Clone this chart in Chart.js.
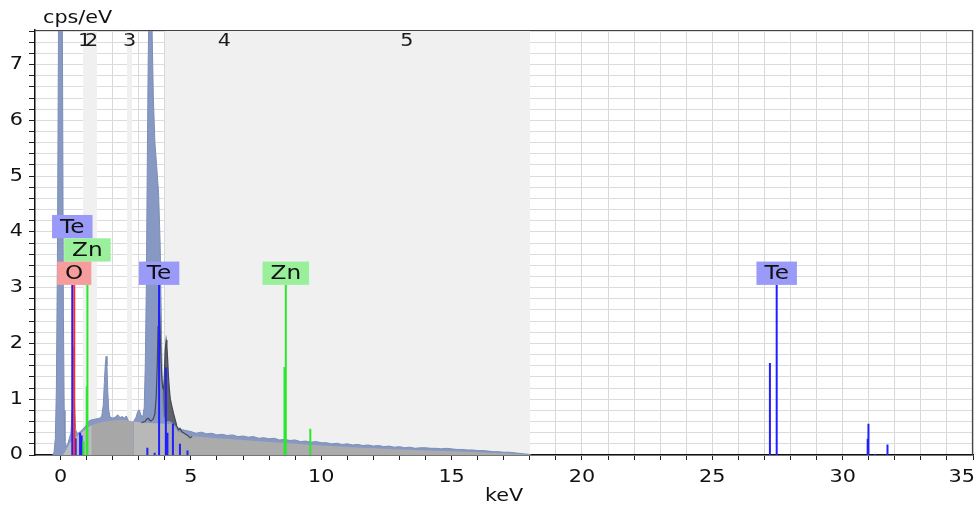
<!DOCTYPE html>
<html>
<head>
<meta charset="utf-8">
<script src="https://cdn.jsdelivr.net/npm/chart.js@4.4.1/dist/chart.umd.min.js"></script>
<style>
  html, body { margin: 0; padding: 0; background: #fff; }
  canvas { display: block; }
</style>
</head>
<body>
<canvas id="spectrum" width="977" height="508"></canvas>
<script>
// measured spectrum, keV vs cps/eV
const measuredKeV = [-0.30, -0.25, -0.20, -0.16, -0.12, -0.08, -0.04, 0.00, 0.04, 0.08, 0.11, 0.14, 0.17, 0.22, 0.28, 0.34,
  0.40, 0.44, 0.47, 0.49, 0.51, 0.54, 0.58, 0.64, 0.70, 0.76, 0.82, 0.88, 0.94, 1.00, 1.06, 1.12, 1.20, 1.30, 1.40, 1.50,
  1.58, 1.64, 1.68, 1.72, 1.75, 1.78, 1.81, 1.85, 1.90, 2.00, 2.10, 2.20, 2.28, 2.36, 2.45, 2.52, 2.60, 2.70, 2.80, 2.90,
  2.96, 3.02, 3.08, 3.15, 3.21, 3.25, 3.29, 3.32, 3.36, 3.40, 3.45, 3.50, 3.56, 3.62, 3.70, 3.76, 3.82, 3.86, 3.90, 3.94,
  4.00, 4.20, 4.40, 4.60, 4.80,
  5.00, 5.20, 5.40, 5.60, 5.80, 6.00, 6.20, 6.40, 6.60, 6.80, 7.00, 7.20, 7.40, 7.60, 7.80, 8.00, 8.20, 8.40, 8.60, 8.80,
  9.00, 9.20, 9.40, 9.60, 9.80, 10.00, 10.20, 10.40, 10.60, 10.80, 11.00, 11.20, 11.40, 11.60, 11.80, 12.00, 12.20, 12.40,
  12.60, 12.80, 13.00, 13.20, 13.40, 13.60, 13.80, 14.00, 14.20, 14.40, 14.60, 14.80, 15.00, 15.20, 15.40, 15.60, 15.80,
  16.00, 16.20, 16.40, 16.60, 16.80, 17.00, 17.20, 17.40, 17.60, 17.80, 18.00, 18.05];
const measuredCps = [0, 0.05, 0.3, 1.2, 3.5, 7.5, 11, 12.5, 11, 6.5, 2.5, 0.8, 0.25, 0.15, 0.2, 0.3,
  0.4, 0.8, 1.5, 1.94, 1.6, 0.9, 0.45, 0.38, 0.4, 0.42, 0.45, 0.48, 0.5, 0.55, 0.6, 0.62, 0.63, 0.64, 0.65, 0.66,
  0.7, 0.9, 1.3, 1.65, 1.77, 1.6, 1.15, 0.8, 0.68, 0.66, 0.68, 0.72, 0.67, 0.69, 0.66, 0.7, 0.62, 0.56, 0.6, 0.68,
  0.78, 0.81, 0.72, 0.68, 0.85, 1.6, 3.0, 4.8, 7.0, 8.4, 8.7, 7.9, 6.4, 5.6, 5.1, 4.7, 3.8, 2.6, 1.3, 0.75,
  0.6, 0.6, 0.52, 0.46, 0.44,
  0.42, 0.39, 0.41, 0.38, 0.39, 0.36, 0.37, 0.35, 0.36, 0.33, 0.34, 0.32, 0.33, 0.30, 0.31, 0.29, 0.30, 0.27, 0.28, 0.26,
  0.27, 0.24, 0.25, 0.23, 0.24, 0.22, 0.22, 0.20, 0.21, 0.19, 0.20, 0.18, 0.19, 0.17, 0.18, 0.16, 0.17, 0.15,
  0.16, 0.14, 0.15, 0.13, 0.14, 0.12, 0.13, 0.13, 0.12, 0.12, 0.11, 0.12, 0.11, 0.10, 0.10, 0.09, 0.09,
  0.08, 0.08, 0.07, 0.06, 0.06, 0.05, 0.05, 0.04, 0.03, 0.02, 0.01, 0];

// fitted Te L-series envelope
const fitKeV = [3.10, 3.24, 3.30, 3.37, 3.43, 3.47, 3.52, 3.56, 3.62, 3.67, 3.71, 3.74, 3.77, 3.80, 3.84, 3.88, 3.92, 3.95,
  3.98, 4.01, 4.05, 4.08, 4.11, 4.14, 4.17, 4.21, 4.27, 4.33, 4.40, 4.46, 4.52, 4.58, 4.64, 4.72, 4.80, 4.88, 4.97, 5.05];
const fitCps = [0.58, 0.60, 0.64, 0.66, 0.62, 0.61, 0.63, 0.65, 0.74, 1.05, 1.6, 2.3, 2.7, 2.5, 1.9, 1.4, 1.2, 1.18,
  1.4, 1.85, 2.06, 1.95, 1.7, 1.4, 1.2, 1.0, 0.87, 0.75, 0.63, 0.52, 0.45, 0.48, 0.42, 0.40, 0.37, 0.35, 0.31, 0.33];

// background (bremsstrahlung)
const bgKeV = [0.08, 0.15, 0.25, 0.36, 0.50, 0.75, 1.00, 1.20, 1.40, 1.70, 2.00, 2.40, 2.80, 3.20, 3.60, 4.00, 4.30, 4.50,
  4.80, 5.00, 5.50, 6.00, 7.00, 8.00, 9.00, 10.00, 11.00, 12.00, 13.00, 14.00, 15.00, 16.00, 17.00, 17.80, 18.00];
const bgCps = [0, 0.04, 0.12, 0.22, 0.28, 0.38, 0.48, 0.54, 0.57, 0.60, 0.62, 0.63, 0.60, 0.58, 0.57, 0.56, 0.55, 0.42,
  0.36, 0.34, 0.32, 0.30, 0.27, 0.235, 0.20, 0.17, 0.145, 0.12, 0.10, 0.08, 0.065, 0.05, 0.03, 0.01, 0];

// element line markers
const teKeV = [0.45, 0.58, 0.75, 0.81, 3.33, 3.61, 3.78, 4.04, 4.07, 4.10, 4.31, 4.58, 4.87, 27.21, 27.47, 30.96, 30.99, 31.24, 31.72];
const teHeight = [3.05, 0.30, 0.40, 0.35, 0.13, 0.04, 3.05, 1.57, 0.35, 0.40, 0.56, 0.20, 0.08, 1.65, 3.05, 0.29, 0.56, 0.02, 0.19];
const znKeV = [0.88, 1.005, 1.03, 8.59, 8.64, 9.58];
const znHeight = [0.25, 1.23, 3.05, 1.58, 3.05, 0.47];
const oKeV = [0.525];
const oHeight = [3.05];

// element labels
const labelText = ["Te", "Zn", "O", "Te", "Zn", "Te"];
const labelKeV = [0.45, 1.03, 0.525, 3.78, 8.64, 27.47];
const labelRow = [2, 1, 0, 0, 0, 0];
const labelLevel = 3.05;

// regions of interest
const roiNames = ["1", "2", "3", "4", "5"];
const roiStart = [0.86, 0.98, 2.55, 4.0, 8.56];
const roiEnd = [0.98, 1.40, 2.74, 8.56, 18.0];

// axes
const xLabels = [0, 5, 10, 15, 20, 25, 30, 35];
const yLabels = [0, 1, 2, 3, 4, 5, 6, 7];

const FONT = '"DejaVu Sans", Verdana, sans-serif';
const STRETCH = 1.22;
const colors = { Te: "#9a9af8", Zn: "#9af09a", O: "#f69c9c" };

function pts(xs, ys) {
  return xs.map((x, i) => ({ x: x, y: ys[i] }));
}

function sticks(xs, hs) {
  const out = [];
  xs.forEach((x, i) => {
    out.push({ x: x, y: 0 }, { x: x, y: hs[i] }, { x: x, y: null });
  });
  return out;
}

function bgShade(x) {
  if (x < 1.06) return "#bdbdbd";
  if (x < 2.51) return "#a7a7a7";
  if (x < 2.78) return "#9a9a9a";
  if (x < 4.0) return "#b8b8b8";
  return "#ababab";
}

// text is drawn slightly widened
function wideText(ctx, text, x, y, align) {
  ctx.save();
  ctx.translate(x, y);
  ctx.scale(STRETCH, 1);
  ctx.textAlign = align;
  ctx.fillText(text, 0, 0);
  ctx.restore();
}

const roiPlugin = {
  id: "roi",
  beforeDatasetsDraw(chart) {
    const { ctx, chartArea, scales } = chart;
    ctx.save();
    ctx.fillStyle = "#f0f0f0";
    roiStart.forEach((s, i) => {
      const x0 = Math.round(scales.x.getPixelForValue(s));
      const x1 = Math.round(scales.x.getPixelForValue(roiEnd[i]));
      ctx.fillRect(x0, chartArea.top, x1 - x0, chartArea.bottom - chartArea.top);
    });
    ctx.fillStyle = "#1a1a1a";
    ctx.font = "17px " + FONT;
    ctx.textBaseline = "middle";
    roiNames.forEach((n, i) => {
      const xc = scales.x.getPixelForValue((roiStart[i] + roiEnd[i]) / 2);
      wideText(ctx, n, xc, chartArea.top + 12, "center");
    });
    ctx.restore();
  },
  afterDatasetsDraw(chart) {
    const { ctx, scales } = chart;
    ctx.save();
    ctx.font = "19px " + FONT;
    ctx.textBaseline = "middle";
    const bottom = scales.y.getPixelForValue(labelLevel);
    const h = 23.3;
    labelText.forEach((t, i) => {
      const w = ctx.measureText(t).width * STRETCH + 16;
      const xc = scales.x.getPixelForValue(labelKeV[i]);
      const yb = bottom - labelRow[i] * h;
      ctx.fillStyle = colors[t];
      ctx.fillRect(xc - w / 2, yb - h, w, h);
      ctx.fillStyle = "#111";
      wideText(ctx, t, xc, yb - h / 2 + 1, "center");
    });
    ctx.restore();
  },
  afterDraw(chart) {
    const { ctx, chartArea, scales, width } = chart;
    ctx.save();
    // top and right frame
    ctx.strokeStyle = "#444";
    ctx.lineWidth = 1.2;
    ctx.beginPath();
    ctx.moveTo(chartArea.left, chartArea.top + 0.5);
    ctx.lineTo(chartArea.right - 0.5, chartArea.top + 0.5);
    ctx.lineTo(chartArea.right - 0.5, chartArea.bottom);
    ctx.stroke();

    ctx.fillStyle = "#111";
    ctx.font = "17px " + FONT;
    ctx.textBaseline = "middle";
    yLabels.forEach(v => wideText(ctx, String(v), 23, scales.y.getPixelForValue(v), "right"));
    xLabels.forEach(v => {
      const s = String(v);
      const half = ctx.measureText(s).width * STRETCH / 2;
      const xc = Math.min(scales.x.getPixelForValue(v), width - 2 - half);
      wideText(ctx, s, xc, 478, "center");
    });
    wideText(ctx, "keV", 504, 497, "center");
    wideText(ctx, "cps/eV", 43, 19, "left");
    ctx.restore();
  }
};

const stickStyle = {
  type: "line",
  fill: false,
  borderWidth: 2,
  pointRadius: 0,
  spanGaps: false,
  borderCapStyle: "butt"
};

// first dataset is drawn on top
const datasets = [
  Object.assign({ data: sticks(oKeV, oHeight), borderColor: "#ff2a2a" }, stickStyle),
  Object.assign({ data: sticks(znKeV, znHeight), borderColor: "#2ee62e" }, stickStyle),
  Object.assign({ data: sticks(teKeV, teHeight), borderColor: "#2020ff" }, stickStyle),
  {
    data: pts(fitKeV, fitCps),
    borderColor: "#444850",
    borderWidth: 1.2,
    fill: false,
    pointRadius: 0
  },
  {
    data: pts(bgKeV, bgCps),
    borderWidth: 0,
    borderColor: "rgba(0,0,0,0)",
    backgroundColor: "#b0b0b0",
    fill: "origin",
    pointRadius: 0,
    segment: { backgroundColor: c => bgShade(c.p0.parsed.x) }
  },
  {
    data: pts(measuredKeV, measuredCps),
    borderColor: "#7b8eb9",
    borderWidth: 1,
    backgroundColor: "#8799c2",
    fill: "origin",
    pointRadius: 0
  },
  {
    data: pts(fitKeV, fitCps),
    borderWidth: 0,
    borderColor: "rgba(0,0,0,0)",
    backgroundColor: "#5f626a",
    fill: "origin",
    pointRadius: 0
  }
];

new Chart(document.getElementById("spectrum").getContext("2d"), {
  type: "line",
  data: { datasets: datasets },
  options: {
    responsive: false,
    animation: false,
    devicePixelRatio: 1,
    layout: { padding: { top: 30, right: 4, left: 0, bottom: 0 } },
    elements: { line: { tension: 0 }, point: { radius: 0 } },
    plugins: { legend: { display: false }, tooltip: { enabled: false } },
    scales: {
      x: {
        type: "linear",
        min: -0.98,
        max: 35,
        afterBuildTicks: s => {
          const t = [];
          for (let v = 0; v <= 35; v++) t.push({ value: v });
          s.ticks = t;
        },
        afterFit: s => { s.height = 53; },
        ticks: { display: false },
        grid: { color: "#d8d8d8", tickColor: "#222", tickLength: 5 },
        border: { color: "#111", width: 1.5 }
      },
      y: {
        type: "linear",
        min: 0,
        max: 7.62,
        afterBuildTicks: s => {
          const t = [];
          for (let i = 0; i <= 38; i++) t.push({ value: i / 5 });
          s.ticks = t;
        },
        afterFit: s => { s.width = 35; },
        ticks: { display: false },
        grid: { color: "#dcdcdc", tickColor: "#222", tickLength: 6 },
        border: { color: "#111", width: 1.5 }
      }
    }
  },
  plugins: [roiPlugin]
});
</script>
</body>
</html>
